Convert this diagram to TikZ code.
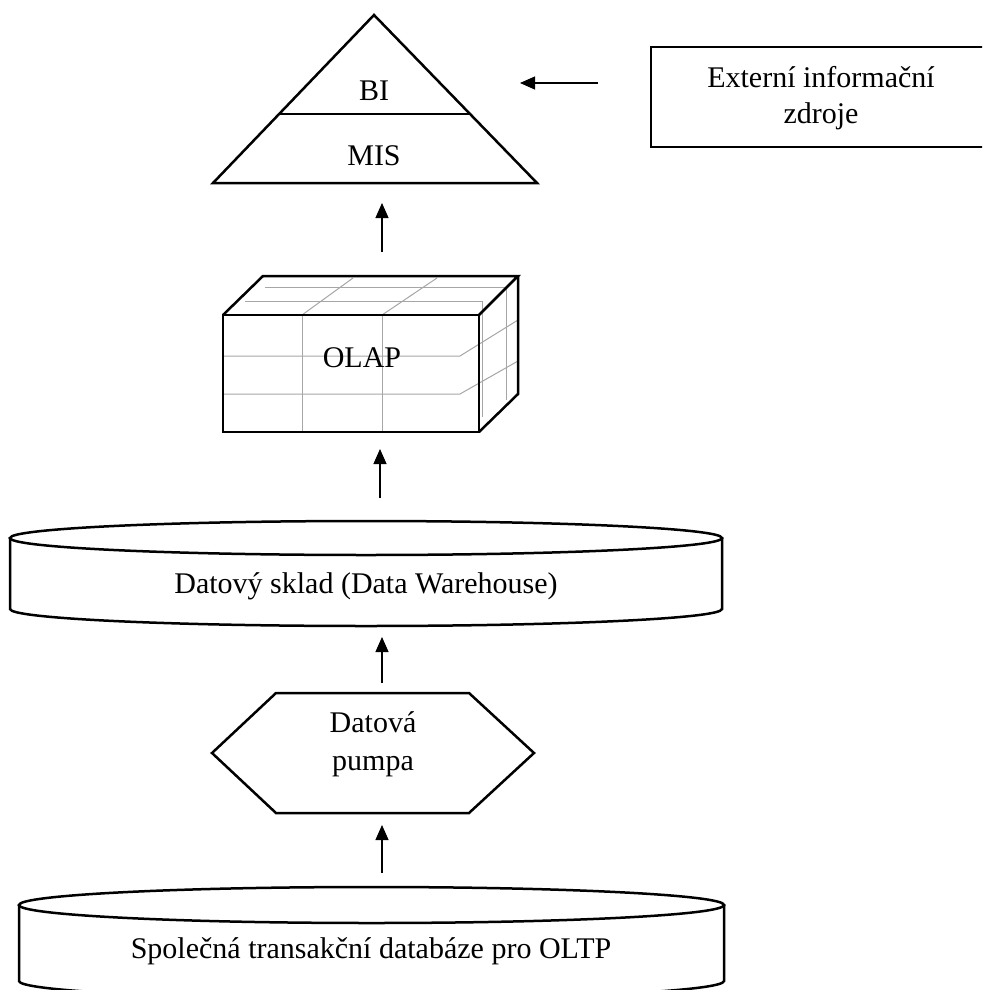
\documentclass[tikz,border=0pt]{standalone}
\usepackage{fontspec}
\setmainfont{Liberation Serif}
\usetikzlibrary{arrows.meta}
\begin{document}
\begin{tikzpicture}[x=1pt,y=-1pt,
  lbl/.style={font=\fontsize{30}{36}\selectfont, anchor=base, inner sep=0pt},
  shp/.style={line width=2.5pt, line join=miter},
  gridln/.style={draw=black!35, line width=1pt},
  arr/.style={line width=1.2pt, -{Triangle[length=15pt,width=13pt]}}]
\useasboundingbox (0,0) rectangle (982,990);
\clip (0,0) rectangle (982,990);
% pyramid
\draw[shp] (374,15) -- (537,183) -- (213,183) -- cycle;
\draw[line width=1.2pt] (279,114) -- (470,114);
\node[lbl] (bi) at (374,100) {BI};
\node[lbl] (mis) at (374,165) {MIS};
% external sources
\draw[shp] (1000,47) -- (651,47) -- (651,147) -- (1000,147);
\node[lbl] (ext1) at (821,87) {Externí informační};
\node[lbl] (ext2) at (821,123) {zdroje};
\coordinate (a1s) at (598,83);
\coordinate (a1e) at (520,83);
\draw[arr] (a1s) -- (a1e);
% cube grid
\draw[gridln] (302,315) -- (302,432) (382,315) -- (382,432);
\draw[gridln] (302,315) -- (353,278) (382,315) -- (437,278);
\draw[gridln] (265,287) -- (506,287) -- (506,400);
\draw[gridln] (245,301) -- (482,301) -- (482,417);
\draw[gridln] (223,356) -- (460,356) -- (518,320);
\draw[gridln] (223,394) -- (460,394) -- (518,361);
% cube outline
\draw[shp] (223,315) rectangle (479,432);
\draw[shp] (223,315) -- (263,276) -- (518,276) -- (479,315);
\draw[shp] (518,276) -- (518,394) -- (479,432);
\node[lbl] (olap) at (362,367) {OLAP};
\coordinate (a2s) at (382,252);
\coordinate (a2e) at (382,203);
\draw[arr] (a2s) -- (a2e);
\coordinate (a3s) at (380,498);
\coordinate (a3e) at (380,449);
\draw[arr] (a3s) -- (a3e);
% data warehouse cylinder
\draw[shp] (366,538) ellipse [x radius=356pt, y radius=17pt];
\draw[shp] (10,538) -- (10,609) arc[start angle=180, end angle=360, x radius=356pt, y radius=17pt] -- (722,538);
\node[lbl] (dw) at (366,593) {Datový sklad (Data Warehouse)};
\coordinate (a4s) at (382,683);
\coordinate (a4e) at (382,637);
\draw[arr] (a4s) -- (a4e);
% data pump hexagon
\draw[shp] (212,753) -- (276,693) -- (469,693) -- (534,753) -- (469,813) -- (276,813) -- cycle;
\node[lbl] (dp1) at (373,732) {Datová};
\node[lbl] (dp2) at (373,770) {pumpa};
\coordinate (a5s) at (382,873);
\coordinate (a5e) at (382,825);
\draw[arr] (a5s) -- (a5e);
% OLTP cylinder
\draw[shp] (371.5,905) ellipse [x radius=352.5pt, y radius=18pt];
\draw[shp] (19,905) -- (19,981) arc[start angle=180, end angle=360, x radius=352.5pt, y radius=18pt] -- (724,905);
\node[lbl] (oltp) at (371,958) {Společná transakční databáze pro OLTP};
\end{tikzpicture}
\end{document}
